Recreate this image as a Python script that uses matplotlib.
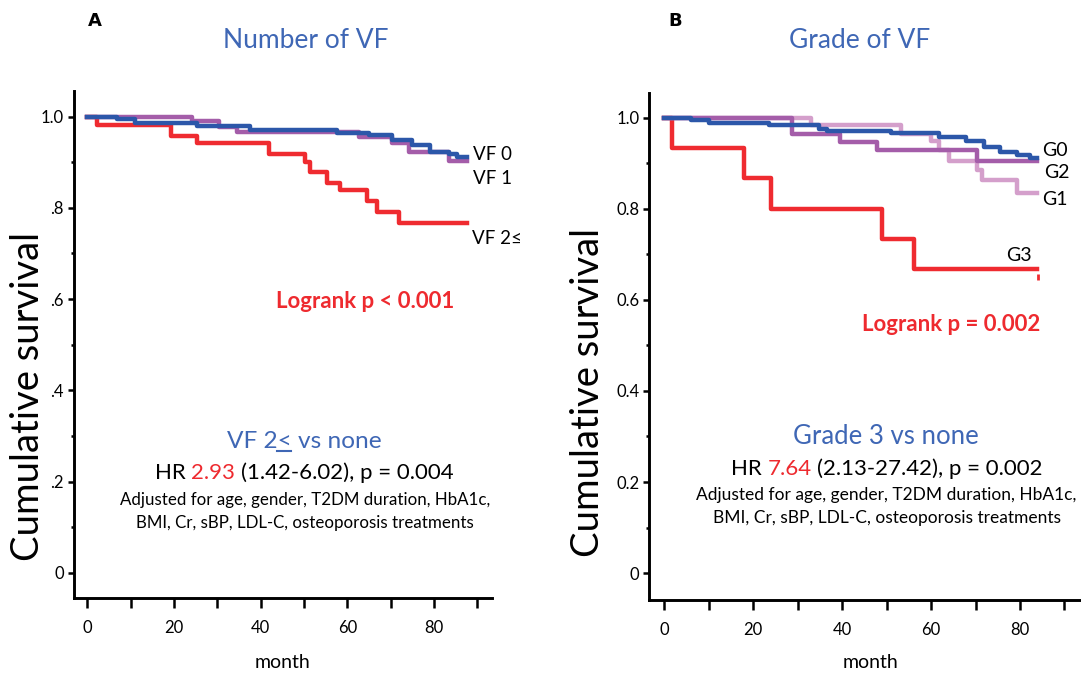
import matplotlib
matplotlib.use("Agg")
import matplotlib.pyplot as plt
from matplotlib.lines import Line2D

# ---- data ----
x_ticks = [0, 10, 20, 30, 40, 50, 60, 70, 80, 90]
x_ticklabels = ["0", "", "20", "", "40", "", "60", "", "80", ""]
y_ticks = [0, 0.2, 0.4, 0.6, 0.8, 1.0]
y_minor = [0.1, 0.3, 0.5, 0.7, 0.9]
y_labels_a = ["0", ".2", ".4", ".6", ".8", "1.0"]
y_labels_b = ["0", "0.2", "0.4", "0.6", "0.8", "1.0"]

# panel A: number of VF
vf0_month = [0, 6.9, 11.1, 25.3, 37.6, 57.7, 65.0, 70.4, 75.0, 79.2, 83.4, 85.4, 87.7]
vf0_surv = [1.0, 0.994, 0.985, 0.980, 0.971, 0.964, 0.960, 0.949, 0.938, 0.923, 0.917, 0.912, 0.912]
vf1_month = [0, 24.2, 30.3, 34.6, 62.7, 70.4, 74.2, 83.5, 87.7]
vf1_surv = [1.0, 0.991, 0.978, 0.966, 0.955, 0.942, 0.923, 0.903, 0.903]
vf2_month = [0, 2.3, 19.2, 25.3, 41.9, 50.3, 51.5, 55.3, 58.4, 64.6, 66.9, 71.9, 87.7]
vf2_surv = [1.0, 0.982, 0.958, 0.942, 0.918, 0.901, 0.878, 0.854, 0.839, 0.814, 0.790, 0.766, 0.766]

# panel B: grade of VF
g0_month = [0, 5.9, 10.0, 23.5, 34.8, 36.6, 50.9, 61.8, 67.8, 71.9, 75.6, 79.4, 82.2, 83.9]
g0_surv = [1.0, 0.994, 0.989, 0.983, 0.976, 0.971, 0.967, 0.958, 0.949, 0.936, 0.924, 0.919, 0.912, 0.912]
g1_month = [0, 32.9, 53.2, 59.9, 61.8, 64.0, 70.3, 71.4, 79.4, 83.9]
g1_surv = [1.0, 0.983, 0.965, 0.949, 0.930, 0.905, 0.886, 0.864, 0.835, 0.835]
g2_month = [0, 28.8, 39.6, 47.9, 70.3, 83.9]
g2_surv = [1.0, 0.965, 0.947, 0.929, 0.906, 0.906]
g3_month = [0, 1.7, 18.0, 23.9, 49.0, 56.2, 83.9]
g3_surv = [1.0, 0.934, 0.867, 0.800, 0.733, 0.667, 0.667]
g3_censor_month = [84.0]
g3_censor_surv = [0.651]

BLUE = "#2c57a9"
PURPLE = "#a45da9"
PINK = "#d49fcb"
RED = "#ef2b30"
TXT_BLUE = "#3f67b5"
TXT_RED = "#ee2a2f"

W, H = 1081, 675
plt.rcParams["font.family"] = ["Lato", "DejaVu Sans"]
fig = plt.figure(figsize=(W / 100, H / 100), dpi=100)
renderer = fig.canvas.get_renderer()


def fx(px):
    return px / W


def fy(py):
    return 1 - py / H


def text_width(s, **kw):
    t = fig.text(0, 0, s, **kw)
    w = t.get_window_extent(renderer).width
    t.remove()
    return w


def put(px, py, s, **kw):
    return fig.text(fx(px), fy(py), s, **kw)


def mixed_line(cx, cy, parts, colors, size):
    full = " ".join(parts)
    x0 = cx - text_width(full, fontsize=size) / 2
    for i, (p, c) in enumerate(zip(parts, colors)):
        pre = " ".join(parts[: i + 1])
        start = x0 + text_width(pre, fontsize=size) - text_width(p, fontsize=size)
        put(start, cy, p, color=c, fontsize=size, ha="left", va="center")


def style(ax, xlim, ylim, ylabels):
    ax.set_xlim(xlim)
    ax.set_ylim(ylim)
    for s in ["top", "right"]:
        ax.spines[s].set_visible(False)
    for s in ["left", "bottom"]:
        ax.spines[s].set_linewidth(2.1)
    ax.set_xticks(x_ticks)
    ax.set_xticklabels(x_ticklabels)
    ax.tick_params(axis="x", length=7, width=1.8, pad=9, labelsize=12)
    ax.set_yticks(y_ticks)
    ax.set_yticklabels(ylabels)
    ax.set_yticks(y_minor, minor=True)
    ax.tick_params(axis="y", which="major", length=4.3, width=1.8, pad=2.5, labelsize=12)
    ax.tick_params(axis="y", which="minor", length=2, width=1.8)


axA = fig.add_axes([fx(73.5), fy(598), fx(492 - 73.5), (598 - 91) / H])
axB = fig.add_axes([fx(649), fy(599.5), fx(1080 - 649), (599.5 - 92.7) / H])
style(axA, (-3.2, 93.4), (-0.055, 1.056), y_labels_a)
style(axB, (-3.45, 93.5), (-0.058, 1.055), y_labels_b)

lw = 3.2
axA.step(vf2_month, vf2_surv, where="post", color=RED, lw=lw)
axA.step(vf1_month, vf1_surv, where="post", color=PURPLE, lw=lw)
axA.step(vf0_month, vf0_surv, where="post", color=BLUE, lw=lw)

axB.step(g3_month, g3_surv, where="post", color=RED, lw=lw)
axB.plot(g3_censor_month, g3_censor_surv, ls="none", marker="|", ms=5, mew=2, color=RED)
axB.step(g1_month, g1_surv, where="post", color=PINK, lw=lw)
axB.step(g2_month, g2_surv, where="post", color=PURPLE, lw=lw)
axB.step(g0_month, g0_surv, where="post", color=BLUE, lw=lw)

# axis labels
put(28, 396, "Cumulative survival", rotation=90, fontsize=27.5, ha="center", va="center")
put(588, 392, "Cumulative survival", rotation=90, fontsize=27.5, ha="center", va="center")
put(283, 663, "month", fontsize=14, ha="center", va="center")
put(871, 663, "month", fontsize=14, ha="center", va="center")

# panel letters and titles
put(95, 21, "A", fontsize=13, fontweight="bold", ha="center", va="center", family="DejaVu Sans")
put(675, 21, "B", fontsize=13, fontweight="bold", ha="center", va="center", family="DejaVu Sans")
put(306, 40, "Number of VF", fontsize=19, color=TXT_BLUE, ha="center", va="center")
put(860, 40, "Grade of VF", fontsize=19, color=TXT_BLUE, ha="center", va="center")

# curve labels A
put(473, 155, "VF 0", fontsize=13.5, ha="left", va="center")
put(473, 178, "VF 1", fontsize=13.5, ha="left", va="center")
put(472, 239, "VF 2\u2264", fontsize=13.5, ha="left", va="center")
# curve labels B
put(1042, 151, "G0", fontsize=14, ha="left", va="center")
put(1044, 173, "G2", fontsize=14, ha="left", va="center")
put(1042, 199, "G1", fontsize=14, ha="left", va="center")
put(1019, 256, "G3", fontsize=14, ha="center", va="center")

# logrank
put(365, 301, "Logrank p < 0.001", fontsize=16, fontweight="bold", color=TXT_RED, ha="center", va="center")
put(951, 325, "Logrank p = 0.002", fontsize=16, fontweight="bold", color=TXT_RED, ha="center", va="center")

# hazard ratio boxes
sub_size = 17.6
sub = "VF 2< vs none"
sw = text_width(sub, fontsize=sub_size)
put(304, 441, sub, fontsize=sub_size, color=TXT_BLUE, ha="center", va="center")
lt_end = 304 - sw / 2 + text_width("VF 2<", fontsize=sub_size)
lt_start = lt_end - text_width("<", fontsize=sub_size)
fig.add_artist(Line2D([fx(lt_start), fx(lt_end)], [fy(451), fy(451)], transform=fig.transFigure,
                      color=TXT_BLUE, lw=1.5))
mixed_line(304, 473, ["HR", "2.93", "(1.42-6.02), p = 0.004"], ["black", TXT_RED, "black"], 16)
put(305, 500, "Adjusted for age, gender, T2DM duration, HbA1c,", fontsize=12.2, ha="center", va="center")
put(305, 523, "BMI, Cr, sBP, LDL-C, osteoporosis treatments", fontsize=12.2, ha="center", va="center")

put(886, 437, "Grade 3 vs none", fontsize=18.5, color=TXT_BLUE, ha="center", va="center")
mixed_line(887, 469, ["HR", "7.64", "(2.13-27.42), p = 0.002"], ["black", TXT_RED, "black"], 16)
put(886, 495, "Adjusted for age, gender, T2DM duration, HbA1c,", fontsize=12.5, ha="center", va="center")
put(887, 518, "BMI, Cr, sBP, LDL-C, osteoporosis treatments", fontsize=12.5, ha="center", va="center")

fig.savefig("out.png", dpi=100)
